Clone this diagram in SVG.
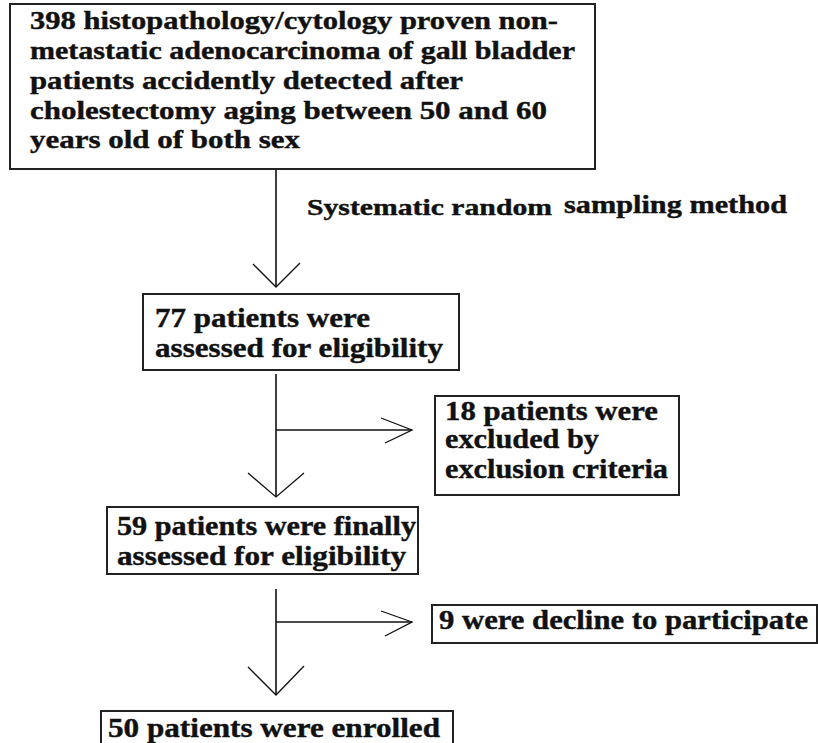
<svg xmlns="http://www.w3.org/2000/svg" width="818" height="743" viewBox="0 0 818 743">
<style>
.box{fill:#fff;stroke:#222;stroke-width:2}
.t{font-family:"Liberation Serif","Times New Roman",serif;font-weight:bold;fill:#111;stroke:#111;stroke-width:0.4}
.t1{font-size:25px}
.t2{font-size:27px}
.ln{stroke:#111;stroke-width:1.6;fill:none}
.hd{stroke:#111;stroke-width:1.3;fill:none}
</style>
<rect width="818" height="743" fill="#fff"/>
<g id="connectors">
<line class="ln" x1="276" y1="169" x2="276" y2="287"/>
<polyline class="hd" points="253,264 276,287 300,263"/>
<line class="ln" x1="276" y1="374" x2="276" y2="497"/>
<line class="ln" x1="276" y1="430" x2="412" y2="430"/>
<polyline class="hd" points="381,418 412,430 385,443"/>
<polyline class="hd" points="248,473 276,497 304,473"/>
<line class="ln" x1="276" y1="589" x2="276" y2="695"/>
<line class="ln" x1="276" y1="622" x2="412" y2="622"/>
<polyline class="hd" points="381,611 412,622 385,636"/>
<polyline class="hd" points="248,667 276,695 304,666"/>
<text class="t" x="307" y="215" font-size="23" textLength="245" lengthAdjust="spacingAndGlyphs">Systematic random</text>
<text class="t" x="564" y="213" font-size="25" textLength="223" lengthAdjust="spacingAndGlyphs">sampling method</text>
</g>
<g id="n1">
<rect class="box" x="10" y="4" width="585" height="165"/>
<text class="t t1" x="30" y="29" textLength="528" lengthAdjust="spacingAndGlyphs">398 histopathology/cytology proven non-</text>
<text class="t t1" x="30" y="59" textLength="545" lengthAdjust="spacingAndGlyphs">metastatic adenocarcinoma of gall bladder</text>
<text class="t t1" x="30" y="89" textLength="433" lengthAdjust="spacingAndGlyphs">patients accidently detected after</text>
<text class="t t1" x="30" y="119" textLength="517" lengthAdjust="spacingAndGlyphs">cholestectomy aging between 50 and 60</text>
<text class="t t1" x="30" y="148" textLength="270" lengthAdjust="spacingAndGlyphs">years old of both sex</text>
</g>
<g id="n2">
<rect class="box" x="143" y="294" width="316" height="76"/>
<text class="t t2" x="155" y="327" textLength="215" lengthAdjust="spacingAndGlyphs">77 patients were</text>
<text class="t t2" x="155" y="357" textLength="288" lengthAdjust="spacingAndGlyphs">assessed for eligibility</text>
</g>
<g id="n3">
<rect class="box" x="435" y="396" width="244" height="99"/>
<text class="t t2" x="445" y="420" textLength="213" lengthAdjust="spacingAndGlyphs">18 patients were</text>
<text class="t t2" x="445" y="448" textLength="154" lengthAdjust="spacingAndGlyphs">excluded by</text>
<text class="t t2" x="445" y="478" textLength="223" lengthAdjust="spacingAndGlyphs">exclusion criteria</text>
</g>
<g id="n4">
<rect class="box" x="107" y="507" width="311" height="67"/>
<text class="t t2" x="117" y="535" textLength="299" lengthAdjust="spacingAndGlyphs">59 patients were finally</text>
<text class="t t2" x="117" y="565" textLength="289" lengthAdjust="spacingAndGlyphs">assessed for eligibility</text>
</g>
<g id="n5">
<rect class="box" x="432" y="605" width="385" height="38"/>
<text class="t t2" x="439" y="629" textLength="369" lengthAdjust="spacingAndGlyphs">9 were decline to participate</text>
</g>
<g id="n6">
<rect class="box" x="101" y="711" width="352" height="40"/>
<text class="t t2" x="108" y="737" textLength="332" lengthAdjust="spacingAndGlyphs">50 patients were enrolled</text>
</g>
</svg>
